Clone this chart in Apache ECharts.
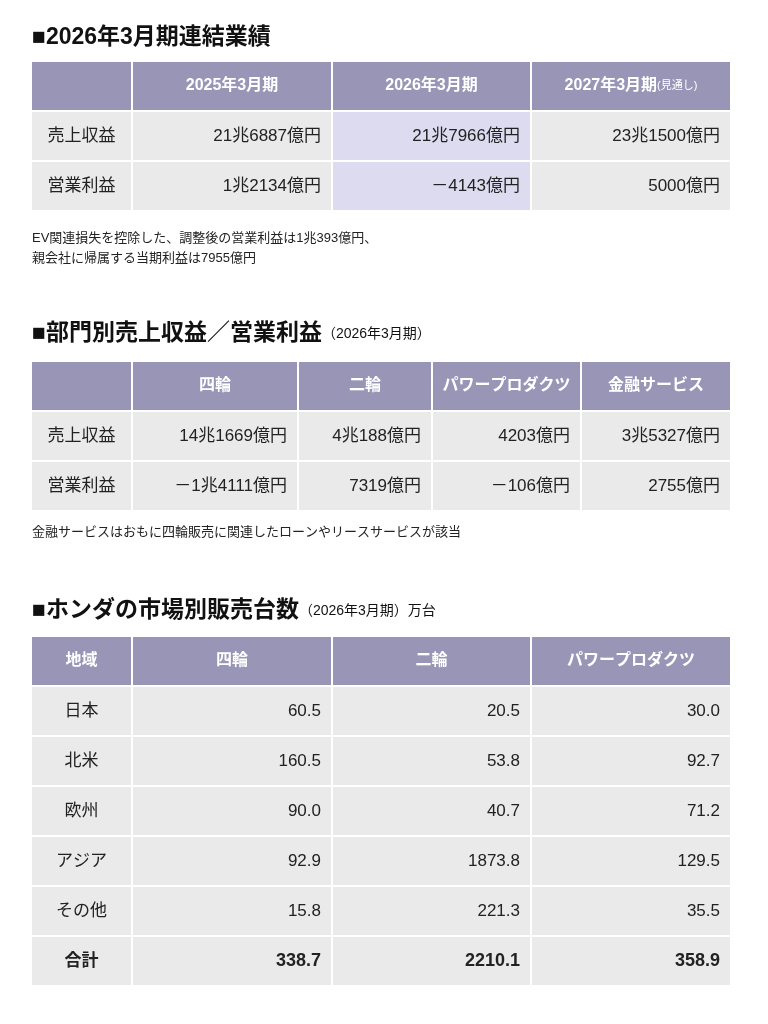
<!DOCTYPE html>
<html><head><meta charset="utf-8">
<script src="https://cdn.jsdelivr.net/npm/echarts@6/dist/echarts.min.js"></script>
<style>html,body{margin:0;background:#fff}#c{width:768px;height:1024px}</style>
</head><body><div id="c"></div>
<script>
// 連結業績
const t1Title = '■2026年3月期連結業績';
const t1Head = ['', '2025年3月期', '2026年3月期', '2027年3月期'];
const t1Rows = ['売上収益', '営業利益'];
const t1Vals = [
    ['21兆6887億円', '21兆7966億円', '23兆1500億円'],
    ['1兆2134億円', '－4143億円', '5000億円']
];
const t1Note = ['EV関連損失を控除した、調整後の営業利益は1兆393億円、', '親会社に帰属する当期利益は7955億円'];

// 部門別
const t2Title = '■部門別売上収益／営業利益';
const t2Sub = '（2026年3月期）';
const t2Head = ['', '四輪', '二輪', 'パワープロダクツ', '金融サービス'];
const t2Rows = ['売上収益', '営業利益'];
const t2Vals = [
    ['14兆1669億円', '4兆188億円', '4203億円', '3兆5327億円'],
    ['－1兆4111億円', '7319億円', '－106億円', '2755億円']
];
const t2Note = ['金融サービスはおもに四輪販売に関連したローンやリースサービスが該当'];

// 市場別販売台数
const t3Title = '■ホンダの市場別販売台数';
const t3Sub = '（2026年3月期）万台';
const t3Head = ['地域', '四輪', '二輪', 'パワープロダクツ'];
const t3Rows = ['日本', '北米', '欧州', 'アジア', 'その他', '合計'];
const t3Vals = [
    ['60.5', '20.5', '30.0'],
    ['160.5', '53.8', '92.7'],
    ['90.0', '40.7', '71.2'],
    ['92.9', '1873.8', '129.5'],
    ['15.8', '221.3', '35.5'],
    ['338.7', '2210.1', '358.9']
];

const FONT = '"Liberation Sans", "Noto Sans CJK JP", sans-serif';
const HEAD = '#9995b7', BODY = '#ebeaea', HILITE = '#dddbef';
const els = [];

function txt(x, y, s, o) {
    els.push({type: 'text', x: x, y: y, style: Object.assign({
        text: s, fontFamily: FONT, fontSize: 17, fill: '#222',
        textVerticalAlign: 'middle'}, o || {})});
}
function rect(x, y, w, h, c) {
    els.push({type: 'rect', shape: {x: x, y: y, width: w, height: h}, style: {fill: c}});
}

function table(top, cols, head, rows, vals, opt) {
    const rh = 48, gap = 2;
    const allRows = [head].concat(rows.map((r, i) => [r].concat(vals[i])));
    allRows.forEach((row, ri) => {
        const y = top + ri * (rh + gap);
        row.forEach((cell, ci) => {
            const x0 = cols[ci], x1 = cols[ci + 1] - gap;
            let bg = ri === 0 ? HEAD : BODY;
            if (ri > 0 && opt.hilite === ci) bg = HILITE;
            rect(x0, y, x1 - x0, rh, bg);
            if (ri === 0) {
                if (ci === opt.smallCol) {
                    txt((x0 + x1) / 2, y + rh / 2, '{a|' + cell + '}{b|(見通し)}', {
                        align: 'center', rich: {
                            a: {fontFamily: FONT, fontSize: 16, fontWeight: 'bold', fill: '#fff'},
                            b: {fontFamily: FONT, fontSize: 11, fill: '#fff'}}});
                } else {
                    txt((x0 + x1) / 2, y + rh / 2, cell, {fill: '#fff', fontWeight: 'bold', fontSize: 16, align: 'center'});
                }
            } else {
                const bold = opt.boldLast && ri === allRows.length - 1;
                if (ci === 0) txt((x0 + x1) / 2, y + rh / 2, cell, {align: 'center', fontWeight: bold ? 'bold' : 'normal'});
                else txt(x1 - 10, y + rh / 2, cell, {align: 'right', fontWeight: bold ? 'bold' : 'normal', fontSize: bold ? 18 : 17});
            }
        });
    });
}

function title(y, main, sub) {
    els.push({type: 'text', x: 32, y: y, style: {
        text: '{m|' + main + '}' + (sub ? '{s|' + sub + '}' : ''), fontFamily: FONT, textVerticalAlign: 'middle',
        rich: {m: {fontSize: 23, fontWeight: 'bold', fill: '#111', fontFamily: FONT},
               s: {fontSize: 14, fill: '#111', fontFamily: FONT}}}});
}

title(38, t1Title);
table(62, [32, 133, 333, 532, 732], t1Head, t1Rows, t1Vals, {hilite: 2, smallCol: 3});
t1Note.forEach((s, i) => txt(32, 238 + i * 20, s, {fontSize: 13}));

title(334, t2Title, t2Sub);
table(362, [32, 133, 299, 433, 582, 732], t2Head, t2Rows, t2Vals, {});
t2Note.forEach((s, i) => txt(32, 532 + i * 20, s, {fontSize: 13}));

title(611, t3Title, t3Sub);
table(637, [32, 133, 333, 532, 732], t3Head, t3Rows, t3Vals, {boldLast: true});

const chart = echarts.init(document.getElementById('c'));
chart.setOption({backgroundColor: '#fff', graphic: {elements: els}});
</script></body></html>
